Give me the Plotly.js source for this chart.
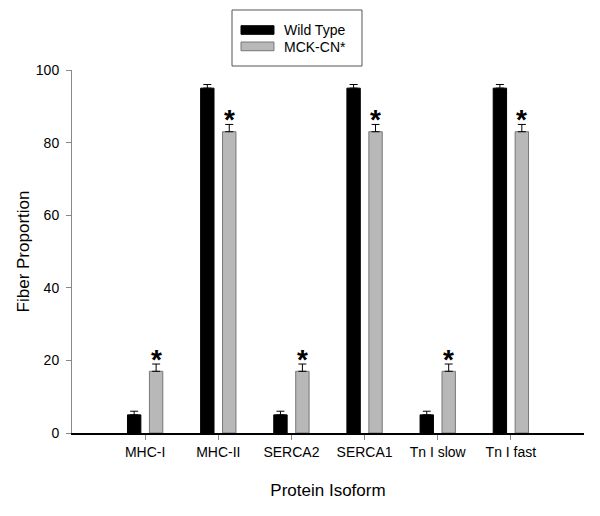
<!DOCTYPE html>
<html>
<head>
<meta charset="utf-8">
<script src="https://cdn.plot.ly/plotly-3.0.1.min.js"></script>
<style>html,body{margin:0;padding:0;background:#fff;}#chart{width:600px;height:516px;}</style>
</head>
<body>
<div id="chart"></div>
<script>
// ---- data ----
var categories = ['MHC-I', 'MHC-II', 'SERCA2', 'SERCA1', 'Tn I slow', 'Tn I fast'];
var wildType = [5, 95, 5, 95, 5, 95];
var wildTypeErr = [1, 1, 1, 1, 1, 1];
var mckCN = [17, 83, 17, 83, 17, 83];
var mckCNErr = [2, 2, 2, 2, 2, 2];
var significant = [true, true, true, true, true, true];
var seriesNames = ['Wild Type', 'MCK-CN*'];
var yTicks = [0, 20, 40, 60, 80, 100];

var FONT = 'Arial, "Liberation Sans", sans-serif';

var traces = [
  {
    type: 'bar', name: seriesNames[0], x: categories, y: wildType,
    marker: {color: '#000000', line: {color: '#000000', width: 1}},
    error_y: {type: 'data', array: wildTypeErr, symmetric: false, arrayminus: wildType.map(function(){return 0;}), color: '#000000', thickness: 1, width: 4},
    hoverinfo: 'x+y'
  },
  {
    type: 'bar', name: seriesNames[1], x: categories, y: mckCN,
    marker: {color: '#b8b8b8', line: {color: '#777777', width: 1}},
    error_y: {type: 'data', array: mckCNErr, symmetric: false, arrayminus: mckCN.map(function(){return 0;}), color: '#000000', thickness: 1, width: 4},
    hoverinfo: 'x+y'
  }
];

// significance stars above the MCK-CN* error bars
var annotations = [];
categories.forEach(function(c, i){
  if (significant[i]) {
    annotations.push({
      x: c, xref: 'x', y: mckCN[i] + mckCNErr[i], yref: 'y',
      text: '<b>*</b>', showarrow: false, xshift: 11, yshift: 5,
      yanchor: 'middle', xanchor: 'center',
      font: {family: FONT, size: 28, color: '#000'}
    });
  }
});

// custom legend (box, swatches, labels)
var shapes = [
  {type: 'rect', xref: 'paper', yref: 'paper', x0: 0.3125, x1: 0.5664, y0: 1.0110, y1: 1.1653,
   line: {color: '#555555', width: 1}, fillcolor: 'rgba(0,0,0,0)'},
  {type: 'rect', xref: 'paper', yref: 'paper', x0: 0.3301, x1: 0.3945, y0: 1.0983, y1: 1.1220,
   line: {color: '#000000', width: 1}, fillcolor: '#000000'},
  {type: 'rect', xref: 'paper', yref: 'paper', x0: 0.3301, x1: 0.3945, y0: 1.0531, y1: 1.0771,
   line: {color: '#777777', width: 1}, fillcolor: '#b8b8b8'}
];
annotations.push({xref: 'paper', yref: 'paper', x: 0.4102, y: 1.1102, xanchor: 'left', yanchor: 'middle',
  text: seriesNames[0], showarrow: false, font: {family: FONT, size: 14, color: '#000'}});
annotations.push({xref: 'paper', yref: 'paper', x: 0.4102, y: 1.0647, xanchor: 'left', yanchor: 'middle',
  text: seriesNames[1], showarrow: false, font: {family: FONT, size: 14, color: '#000'}});

var layout = {
  width: 600, height: 516,
  margin: {l: 72, r: 16, t: 70, b: 83},
  paper_bgcolor: '#ffffff', plot_bgcolor: '#ffffff',
  font: {family: FONT, size: 14, color: '#000'},
  showlegend: false,
  barmode: 'group', bargap: 0.4, bargroupgap: 0.39,
  xaxis: {
    type: 'category', range: [-1, 6],
    showline: true, linecolor: '#000000', linewidth: 2,
    ticks: 'outside', ticklen: 5, tickcolor: '#888888', tickwidth: 1,
    showgrid: false, zeroline: false,
    tickfont: {family: FONT, size: 14, color: '#000'},
    title: {text: 'Protein Isoform', font: {family: FONT, size: 17, color: '#000'}, standoff: 25},
    automargin: false
  },
  yaxis: {
    range: [0, 100], tickvals: yTicks,
    showline: true, linecolor: '#888888', linewidth: 1,
    ticks: 'outside', ticklen: 5, tickcolor: '#888888', tickwidth: 1,
    ticklabelstandoff: 4,
    showgrid: false, zeroline: false,
    tickfont: {family: FONT, size: 14, color: '#000'},
    title: {text: 'Fiber Proportion', font: {family: FONT, size: 17, color: '#000'}, standoff: 1},
    automargin: false
  },
  annotations: annotations,
  shapes: shapes
};

Plotly.newPlot('chart', traces, layout, {displayModeBar: false, staticPlot: true});
</script>
</body>
</html>
